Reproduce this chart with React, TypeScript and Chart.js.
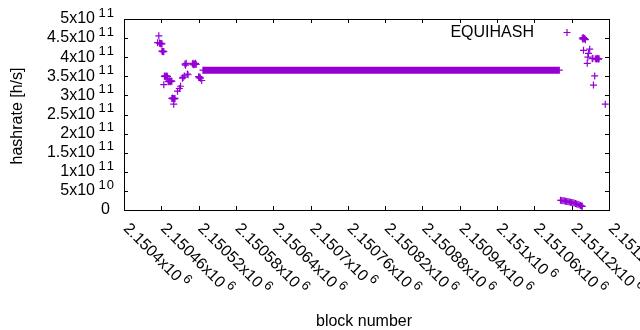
import { useEffect, useRef } from "react";
import { Chart, registerables } from "chart.js";

Chart.register(...registerables);

const SERIES_LABEL = "EQUIHASH";
const X_TITLE = "block number";
const Y_TITLE = "hashrate [h/s]";
const COLOR = "#9400d3";

// early scattered samples
const earlyBlocks = [
  2150454, 2150456, 2150457, 2150458, 2150459, 2150460, 2150461, 2150461, 2150462, 2150463, 2150464,
  2150464, 2150465, 2150466, 2150467, 2150468, 2150469, 2150470, 2150471, 2150472, 2150473, 2150474,
  2150475, 2150476, 2150477, 2150477, 2150478, 2150479, 2150480, 2150480, 2150481, 2150482, 2150486,
  2150489, 2150491, 2150494, 2150495, 2150497, 2150498, 2150499, 2150500, 2150502, 2150503, 2150510,
  2150511, 2150512, 2150513, 2150514, 2150515, 2150516, 2150520, 2150521, 2150522, 2150523, 2150525,
];
const earlyHashrate = [
  4.38e11, 4.56e11, 4.37e11, 4.36e11, 4.35e11, 4.36e11, 4.35e11, 4.16e11, 4.15e11, 4.14e11, 4.15e11,
  3.28e11, 3.5e11, 3.51e11, 3.49e11, 3.5e11, 3.51e11, 3.49e11, 3.37e11, 3.36e11, 3.38e11, 3.37e11,
  3.36e11, 3.38e11, 3.37e11, 2.92e11, 2.93e11, 2.91e11, 2.92e11, 2.77e11, 2.91e11, 2.92e11, 3.11e11,
  3.18e11, 3.24e11, 3.45e11, 3.47e11, 3.51e11, 3.82e11, 3.79e11, 3.84e11, 3.56e11, 3.54e11, 3.82e11,
  3.84e11, 3.8e11, 3.83e11, 3.81e11, 3.84e11, 3.81e11, 3.49e11, 3.46e11, 3.48e11, 3.45e11, 3.39e11,
];

// long constant run
const flatBlocks = [2150527, 2151100];
const flatHashrate = [3.66e11, 3.66e11];

// low tail
const lowBlocks = [
  2151102, 2151104, 2151106, 2151108, 2151110, 2151112, 2151114, 2151116, 2151118, 2151120,
  2151122, 2151124, 2151126, 2151128, 2151130, 2151132, 2151134, 2151136, 2151137,
];
const lowHashrate = [
  2.55e10, 2.5e10, 2.45e10, 2.4e10, 2.3e10, 2.25e10, 2.2e10, 2.1e10, 2.05e10, 1.95e10,
  1.9e10, 1.8e10, 1.7e10, 1.6e10, 1.5e10, 1.35e10, 1.2e10, 1.05e10, 0.95e10,
];

// late scattered samples
const lateBlocks = [
  2151137, 2151138, 2151139, 2151140, 2151141, 2151142, 2151139, 2151145, 2151146, 2151147, 2151149,
  2151153, 2151154, 2151155, 2151157, 2151158, 2151160, 2151161, 2151162, 2151163, 2151164, 2151174,
];
const lateHashrate = [
  4.5e11, 4.47e11, 4.51e11, 4.48e11, 4.49e11, 4.46e11, 4.18e11, 3.84e11, 4.0e11, 4.1e11, 4.21e11,
  3.96e11, 3.97e11, 3.27e11, 3.51e11, 3.96e11, 3.95e11, 3.97e11, 3.96e11, 3.95e11, 3.96e11, 2.77e11,
];

const X_MIN = 2150400;
const X_MAX = 2151180;
const Y_MIN = 0;
const Y_MAX = 5e11;

const xTickValues = [
  2150400, 2150460, 2150520, 2150580, 2150640, 2150700, 2150760,
  2150820, 2150880, 2150940, 2151000, 2151060, 2151120, 2151180,
];
const xTickLabels = [
  "2.1504x10^6", "2.15046x10^6", "2.15052x10^6", "2.15058x10^6", "2.15064x10^6", "2.1507x10^6",
  "2.15076x10^6", "2.15082x10^6", "2.15088x10^6", "2.15094x10^6", "2.151x10^6", "2.15106x10^6",
  "2.15112x10^6", "2.15118x10^6",
];
const yTickValues = [0, 5e10, 1e11, 1.5e11, 2e11, 2.5e11, 3e11, 3.5e11, 4e11, 4.5e11, 5e11];
const yTickLabels = [
  "0", "5x10^10", "1x10^11", "1.5x10^11", "2x10^11", "2.5x10^11",
  "3x10^11", "3.5x10^11", "4x10^11", "4.5x10^11", "5x10^11",
];

const FONT_FAMILY = '"Liberation Sans", Arial, sans-serif';
const BIG = `16px ${FONT_FAMILY}`;
const SMALL = `13px ${FONT_FAMILY}`;
const TICK_LEN = 4;
const EXP_SPACING = 1;

const zip = (xs: number[], ys: number[]) => xs.map((x, i) => ({ x, y: ys[i] }));

const splitLabel = (s: string) => {
  const i = s.indexOf("^");
  return i < 0 ? { base: s, exp: "" } : { base: s.slice(0, i), exp: s.slice(i + 1) };
};

// draws text char by char with extra spacing, left aligned
const drawSpaced = (ctx: CanvasRenderingContext2D, text: string, x: number, y: number, gap: number) => {
  let cx = x;
  for (const ch of text) {
    ctx.fillText(ch, cx, y);
    cx += ctx.measureText(ch).width + gap;
  }
};

const drawCross = (ctx: CanvasRenderingContext2D, x: number, y: number, r: number) => {
  ctx.beginPath();
  ctx.moveTo(x - r, y);
  ctx.lineTo(x + r, y);
  ctx.moveTo(x, y - r);
  ctx.lineTo(x, y + r);
  ctx.stroke();
};

const framePlugin = {
  id: "gnuplotFrame",
  beforeDatasetsDraw(chart: any) {
    const { ctx, chartArea: a, scales } = chart;
    const xs = scales.x;
    const ys = scales.y;
    ctx.save();
    ctx.strokeStyle = "#000";
    ctx.lineWidth = 1;
    ctx.strokeRect(a.left + 0.5, a.top + 0.5, a.right - a.left, a.bottom - a.top);
    ctx.beginPath();
    for (const v of yTickValues) {
      const py = Math.round(ys.getPixelForValue(v)) + 0.5;
      ctx.moveTo(a.left, py);
      ctx.lineTo(a.left + TICK_LEN, py);
      ctx.moveTo(a.right, py);
      ctx.lineTo(a.right - TICK_LEN, py);
    }
    for (const v of xTickValues) {
      const px = Math.round(xs.getPixelForValue(v)) + 0.5;
      ctx.moveTo(px, a.bottom);
      ctx.lineTo(px, a.bottom - TICK_LEN);
      ctx.moveTo(px, a.top);
      ctx.lineTo(px, a.top + TICK_LEN);
    }
    ctx.stroke();
    ctx.restore();
  },
  afterDraw(chart: any) {
    const { ctx, chartArea: a, scales } = chart;
    const xs = scales.x;
    const ys = scales.y;
    ctx.save();
    ctx.fillStyle = "#000";
    ctx.textBaseline = "alphabetic";
    ctx.textAlign = "left";

    // y tick labels
    yTickValues.forEach((v, i) => {
      const py = ys.getPixelForValue(v);
      const { base, exp } = splitLabel(yTickLabels[i]);
      ctx.font = BIG;
      const bw = ctx.measureText(base).width;
      if (exp) {
        const ex = a.left - 25.5;
        ctx.font = SMALL;
        drawSpaced(ctx, exp, ex, py - 2.3, EXP_SPACING);
        ctx.font = BIG;
        ctx.fillText(base, a.left - 29 - bw, py + 4.3);
      } else {
        ctx.fillText(base, a.left - 14 - bw, py + 4.3);
      }
    });

    // x tick labels, rotated
    xTickValues.forEach((v, i) => {
      const px = xs.getPixelForValue(v);
      const { base, exp } = splitLabel(xTickLabels[i]);
      ctx.save();
      ctx.translate(px - 1.3, a.bottom + 19.3);
      ctx.rotate(Math.PI / 4);
      ctx.font = BIG;
      ctx.fillText(base, 0, 0);
      const bw = ctx.measureText(base).width;
      if (exp) {
        ctx.font = SMALL;
        drawSpaced(ctx, exp, bw + 3, -6.6, EXP_SPACING);
      }
      ctx.restore();
    });

    // axis titles
    ctx.font = BIG;
    ctx.textAlign = "center";
    ctx.fillText(X_TITLE, (a.left + a.right) / 2 - 2.5, 325.5);
    ctx.save();
    ctx.translate(21.5, (a.top + a.bottom) / 2 + 1.5);
    ctx.rotate(-Math.PI / 2);
    ctx.fillText(Y_TITLE, 0, 0);
    ctx.restore();

    // key
    ctx.textAlign = "right";
    ctx.fillText(SERIES_LABEL, 534, 36.5);
    ctx.strokeStyle = COLOR;
    ctx.lineWidth = 1.2;
    drawCross(ctx, 567, 32.5, 3.5);
    ctx.restore();
  },
};

export default function App() {
  const ref = useRef<HTMLCanvasElement | null>(null);

  useEffect(() => {
    document.body.style.margin = "0";
    const canvas = ref.current;
    if (!canvas) return;
    const points = [
      ...zip(earlyBlocks, earlyHashrate),
      ...zip(lowBlocks, lowHashrate),
      ...zip(lateBlocks, lateHashrate),
    ];
    const chart = new Chart(canvas, {
      type: "scatter",
      data: {
        datasets: [
          {
            label: SERIES_LABEL,
            data: points,
            pointStyle: "cross",
            pointRadius: 3.5,
            borderColor: COLOR,
            backgroundColor: COLOR,
            borderWidth: 1.2,
            showLine: false,
            clip: false,
          } as any,
          {
            label: SERIES_LABEL + " run",
            type: "line",
            data: zip(flatBlocks, flatHashrate),
            showLine: true,
            borderColor: COLOR,
            backgroundColor: COLOR,
            borderWidth: 7,
            borderCapStyle: "butt",
            pointStyle: "cross",
            pointRadius: 3.5,
            pointBorderWidth: 1.2,
            pointBorderColor: COLOR,
            fill: false,
            tension: 0,
            clip: false,
          } as any,
        ],
      },
      options: {
        animation: false,
        responsive: false,
        devicePixelRatio: 1,
        events: [],
        layout: { padding: { left: 124, top: 19, right: 31, bottom: 120 }, autoPadding: false },
        scales: {
          x: { type: "linear", min: X_MIN, max: X_MAX, display: false },
          y: { type: "linear", min: Y_MIN, max: Y_MAX, display: false },
        },
        plugins: { legend: { display: false }, tooltip: { enabled: false } },
      } as any,
      plugins: [framePlugin],
    });
    return () => chart.destroy();
  }, []);

  return (
    <div style={{ position: "absolute", left: 0, top: 0, width: 640, height: 330, background: "#fff" }}>
      <canvas ref={ref} width={640} height={330} style={{ display: "block" }} />
    </div>
  );
}
